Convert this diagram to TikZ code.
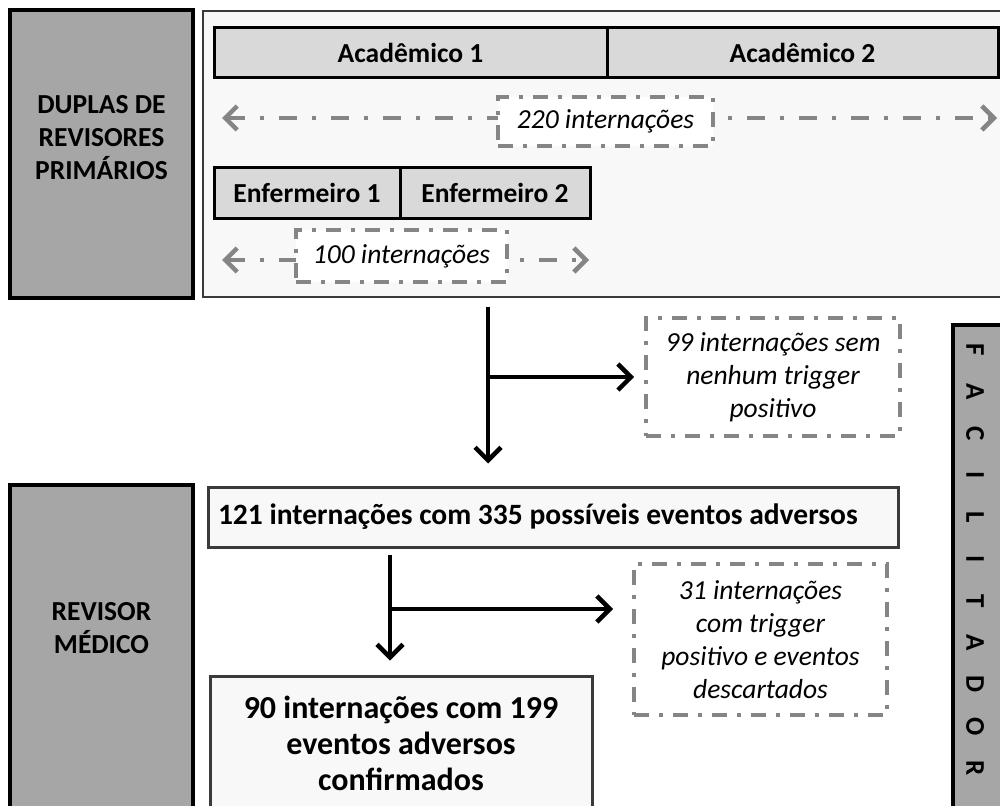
\documentclass[tikz,border=0pt]{standalone}
\usepackage{fontspec}
\setmainfont{Carlito}
\usetikzlibrary{arrows.meta,positioning}

\definecolor{cinzaescuro}{HTML}{A6A6A6}
\definecolor{cinzaclaro}{HTML}{D9D9D9}
\definecolor{fundo}{HTML}{F8F8F8}
\definecolor{borda}{HTML}{3A3A3A}
\definecolor{tracejado}{HTML}{858585}

\newcommand{\letra}[1]{\makebox[41.8pt]{#1}}

\tikzset{
  revisor/.style={draw=black,line width=3.5pt,fill=cinzaescuro,inner sep=0pt},
  rotulo/.style={font=\bfseries\fontsize{27.5}{33}\selectfont,align=center,inner sep=0pt},
  celula/.style={draw=black,line width=3pt,fill=cinzaclaro,inner sep=0pt,minimum height=50pt,font=\bfseries\fontsize{27.5}{33}\selectfont},
  traco/.style={draw=tracejado,line width=4.5pt,dash pattern=on 18pt off 15pt on 4pt off 15pt},
  setacinza/.style={traco,<->,>={Straight Barb[length=12pt,width=24pt,line width=4.5pt]}},
  caixatraco/.style={draw=tracejado,line width=3.8pt,dash pattern=on 15pt off 10pt on 4pt off 10pt,fill=white,inner sep=0pt,align=center,font=\itshape\fontsize{27.5}{33}\selectfont},
  caixa/.style={draw=borda,line width=3pt,fill=fundo,font=\bfseries},
  seta/.style={draw=black,line width=4pt,->,>={Straight Barb[length=13pt,width=26pt,line width=4.5pt]}}
}

\begin{document}
\begin{tikzpicture}[x=1pt,y=-1pt]
\useasboundingbox (0,0) rectangle (1000,805);

\node[revisor,minimum width=183pt,minimum height=288pt] (duplas) at (101.5,154) {};
\node[rotulo] (duplastxt) at (101.5,138) {DUPLAS DE\\REVISORES\\PRIMÁRIOS};
\node[draw=borda,line width=2.5pt,fill=fundo,minimum width=800pt,minimum height=286pt] (primarios) at (603,154) {};

\node[celula,minimum width=393pt] (acad1) at (410.5,53) {Acadêmico 1};
\node[celula,minimum width=391pt] (acad2) at (802.5,53) {Acadêmico 2};
\coordinate (a220e) at (222,118);
\coordinate (a220d) at (997,118);
\draw[setacinza] (a220e) -- (a220d);
\node[caixatraco,minimum width=215pt,minimum height=49pt] (int220) at (605.5,121.5) {220 internações};

\node[celula,minimum width=186pt] (enf1) at (307,193) {Enfermeiro 1};
\node[celula,minimum width=190pt] (enf2) at (495,193) {Enfermeiro 2};
\coordinate (a100e) at (222,260);
\coordinate (a100d) at (589,260);
\draw[setacinza] (a100e) -- (a100d);
\node[caixatraco,minimum width=211pt,minimum height=52pt] (int100) at (401.5,256) {100 internações};

\node[caixatraco,minimum width=254pt,minimum height=118pt] (sem) at (773,377) {99 internações sem\\nenhum trigger\\positivo};

\node[revisor,minimum width=57pt,minimum height=485pt] (facilitador) at (981.5,567.5) {};
\node[rotate=-90,inner sep=0pt,font=\bfseries\fontsize{27}{30}\selectfont] (facilitadortxt) at (975,559)
  {\letra{F}\letra{A}\letra{C}\letra{I}\letra{L}\letra{I}\letra{T}\letra{A}\letra{D}\letra{O}\letra{R}};

\node[revisor,minimum width=183pt,minimum height=330pt] (medico) at (101.5,650) {};
\node[rotulo] (medicotxt) at (101.5,628) {REVISOR\\MÉDICO};

\node[caixa,minimum width=690pt,minimum height=60pt,inner sep=0pt,font=\bfseries\fontsize{29.5}{33}\selectfont] (possiveis) at (553,517)
  {\makebox[670pt][l]{121 internações com 335 possíveis eventos adversos}};

\node[caixatraco,minimum width=253pt,minimum height=151pt] (descartados) at (760.5,639.5) {31 internações\\com trigger\\positivo e eventos\\descartados};

\node[caixa,minimum width=382pt,minimum height=134pt,inner sep=0pt,align=center,font=\bfseries\fontsize{32}{36}\selectfont] (confirmados) at (401,743) {90 internações com 199\\eventos adversos\\confirmados};

\coordinate (s1) at (488,307);
\draw[seta,shorten >=22pt] (s1) -- (s1 |- possiveis.north);
\draw[seta,shorten >=10pt] (s1 |- sem.west) -- (sem.west);

\coordinate (s2) at (390,555);
\coordinate (s2r) at (390,609);
\coordinate (s2f) at (613,609);
\draw[seta,shorten >=14pt] (s2) -- (s2 |- confirmados.north);
\draw[seta] (s2r) -- (s2f);
\end{tikzpicture}
\end{document}
